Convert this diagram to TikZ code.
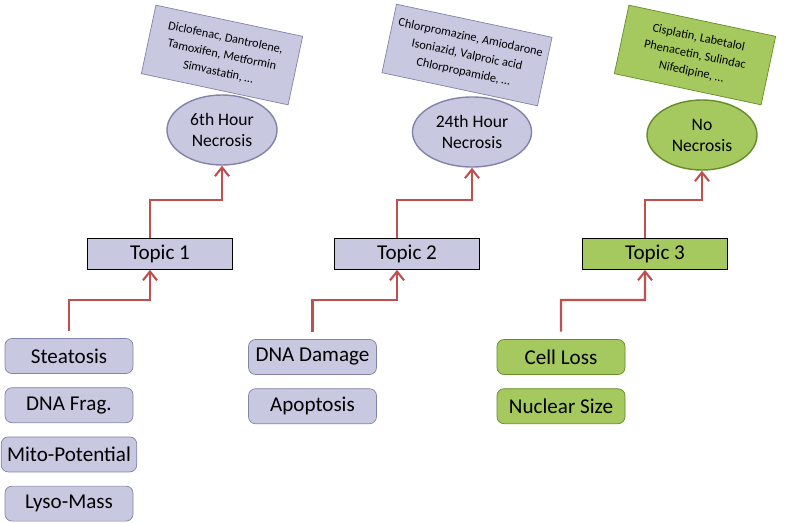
\documentclass[tikz,border=0pt]{standalone}
\usepackage{fontspec}
\setmainfont{Carlito}
\usetikzlibrary{positioning,shapes.geometric,arrows.meta}
\definecolor{lav}{RGB}{200,200,225}
\definecolor{lavd}{RGB}{130,130,170}
\definecolor{lgreen}{RGB}{165,200,95}
\definecolor{dgreen}{RGB}{100,140,40}
\definecolor{arr}{RGB}{190,80,80}
\tikzset{
  feat/.style={draw=lavd,fill=lav,rounded corners=4pt,minimum width=2.56cm,minimum height=0.7cm,font=\large},
  gfeat/.style={feat,draw=dgreen,fill=lgreen},
  topic/.style={draw=black,fill=lav,minimum width=2.9cm,minimum height=0.62cm,font=\large},
  gtopic/.style={topic,fill=lgreen},
  outc/.style={ellipse,draw=lavd,fill=lav,thick,minimum width=2.2cm,minimum height=1.4cm,align=center},
  goutc/.style={outc,draw=dgreen,fill=lgreen},
  drugs/.style={draw=lavd,fill=lav,minimum width=3cm,minimum height=1.4cm,rotate=-12,align=center,font=\scriptsize},
  gdrugs/.style={drugs,draw=dgreen,fill=lgreen},
  link/.style={draw=arr,line width=1.2pt,-{Straight Barb[length=5pt,width=8pt]}}
}
\begin{document}
\begin{tikzpicture}
  \useasboundingbox (0,0) rectangle (15.7,10.44);

  % column 1
  \node[drugs] (d1) at (4.44,9.34) {Diclofenac, Dantrolene,\\[2pt]Tamoxifen, Metformin\\[2pt]Simvastatin, \dots};
  \node[outc] (n1) at (4.44,7.84) {6th Hour\\Necrosis};
  \node[topic] (t1) at (3.2,5.36) {Topic 1};
  \node[feat] (f1) at (1.38,3.32) {Steatosis};
  \node[feat,below=0.27cm of f1] (f2) {DNA Frag.};
  \node[feat,below=0.27cm of f2] (f3) {Mito-Potential};
  \node[feat,below=0.27cm of f3] (f4) {Lyso-Mass};

  % column 2
  \node[drugs] (d2) at (9.34,9.34) {Chlorpromazine, Amiodarone\\[2pt]Isoniazid, Valproic acid\\[2pt]Chlorpropamide, \dots};
  \node[outc] (n2) at (9.44,7.8) {24th Hour\\Necrosis};
  \node[topic] (t2) at (8.14,5.36) {Topic 2};
  \node[feat] (f5) at (6.25,3.3) {DNA Damage};
  \node[feat,below=0.27cm of f5] (f6) {Apoptosis};

  % column 3
  \node[gdrugs] (d3) at (13.9,9.34) {Cisplatin, Labetalol\\[2pt]Phenacetin, Sulindac\\[2pt]Nifedipine, \dots};
  \node[goutc] (n3) at (14.04,7.74) {No\\Necrosis};
  \node[gtopic] (t3) at (13.1,5.36) {Topic 3};
  \node[gfeat] (f7) at (11.22,3.3) {Cell Loss};
  \node[gfeat,below=0.27cm of f7] (f8) {Nuclear Size};

  % arrows
  \draw[link] ([yshift=0.15cm]f1.north) |- (3.0,4.44) -- ([xshift=-0.2cm]t1.south);
  \draw[link] ([xshift=-0.2cm]t1.north) |- (4.44,6.44) -- (n1.south);
  \draw[link] ([yshift=0.15cm]f5.north) |- (7.94,4.44) -- ([xshift=-0.2cm]t2.south);
  \draw[link] ([xshift=-0.2cm]t2.north) |- (9.44,6.44) -- (n2.south);
  \draw[link] ([yshift=0.15cm]f7.north) |- (12.9,4.44) -- ([xshift=-0.2cm]t3.south);
  \draw[link] ([xshift=-0.2cm]t3.north) |- (14.04,6.44) -- (n3.south);
\end{tikzpicture}
\end{document}
